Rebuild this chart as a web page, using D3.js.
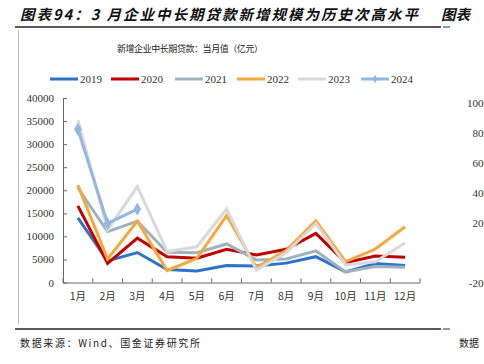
<!DOCTYPE html>
<html>
<head>
<meta charset="utf-8">
<script src="https://cdn.jsdelivr.net/npm/d3@7"></script>
<style>
  body { margin: 0; background: #fff; }
  svg { display: block; }
</style>
</head>
<body>
<script>
const months = ['1月', '2月', '3月', '4月', '5月', '6月', '7月', '8月', '9月', '10月', '11月', '12月'];
const yTicks = [0, 5000, 10000, 15000, 20000, 25000, 30000, 35000, 40000];

const s2019 = [14000, 4700, 6500, 2800, 2500, 3700, 3600, 4200, 5600, 2300, 4100, 3700];
const s2020 = [16600, 4150, 9600, 5600, 5250, 7200, 5950, 7200, 10650, 4300, 5750, 5450];
const s2021 = [20500, 11000, 13300, 6550, 6450, 8350, 4900, 5100, 6850, 2300, 3450, 3300];
const s2022 = [21100, 5100, 13300, 2600, 5250, 14500, 3300, 6900, 13400, 4500, 7250, 12100];
const s2023 = [35200, 11400, 20800, 6700, 7750, 15900, 2700, 6450, 12800, 3800, 4500, 8600];
const s2024 = [33200, 12800, 15900];

const seriesNames = ['2019', '2020', '2021', '2022', '2023', '2024'];
const seriesColors = ['#2f72c9', '#c00000', '#9fb3bf', '#f7a83a', '#d9d9d9', '#93b6e3'];

drawChart();

function drawChart()
{
    const width = 484;
    const height = 364;
    const serif = '"Liberation Serif", "Times New Roman", serif';
    const cjk = '"Noto Sans CJK SC", sans-serif';

    const svg = d3.select('body')
        .append('svg')
        .attr('width', width)
        .attr('height', height);

    // page frame: title, rules, source
    svg.append('text')
        .attr('x', 20).attr('y', 20)
        .attr('font-family', cjk)
        .attr('font-size', 14.5)
        .attr('font-weight', 'bold')
        .attr('font-style', 'italic')
        .attr('fill', '#111')
        .attr('textLength', 398)
        .attr('lengthAdjust', 'spacing')
        .text('图表94：3 月企业中长期贷款新增规模为历史次高水平');

    svg.append('text')
        .attr('x', 441).attr('y', 20)
        .attr('font-family', cjk)
        .attr('font-size', 14.5)
        .attr('font-weight', 'bold')
        .attr('font-style', 'italic')
        .attr('fill', '#111')
        .text('图表');

    [27, 329].forEach(y =>
    {
        svg.append('line')
            .attr('x1', 15).attr('x2', 441)
            .attr('y1', y).attr('y2', y)
            .attr('stroke', '#222').attr('stroke-width', 1.5);
        svg.append('line')
            .attr('x1', 443).attr('x2', 450)
            .attr('y1', y).attr('y2', y)
            .attr('stroke', '#4f81bd').attr('stroke-width', 1.5);
    });

    svg.append('line')
        .attr('x1', 18.5).attr('x2', 18.5)
        .attr('y1', 30).attr('y2', 324)
        .attr('stroke', '#bbb').attr('stroke-width', 1);

    svg.append('text')
        .attr('x', 20).attr('y', 347)
        .attr('font-family', cjk)
        .attr('font-size', 10)
        .attr('fill', '#222')
        .attr('textLength', 180)
        .attr('lengthAdjust', 'spacing')
        .text('数据来源：Wind、国金证券研究所');

    svg.append('text')
        .attr('x', 459).attr('y', 347)
        .attr('font-family', cjk)
        .attr('font-size', 10)
        .attr('fill', '#222')
        .text('数据');

    svg.append('text')
        .attr('x', 190).attr('y', 52)
        .attr('text-anchor', 'middle')
        .attr('font-family', cjk)
        .attr('font-size', 9)
        .attr('fill', '#222')
        .attr('textLength', 146)
        .attr('lengthAdjust', 'spacing')
        .text('新增企业中长期贷款：当月值（亿元）');

    // cut-off axis of the neighbouring chart
    const rightTicks = [['1000', 107], ['800', 137], ['600', 167], ['400', 197], ['200', 227], ['-200', 287]];
    rightTicks.forEach(([t, y]) =>
    {
        svg.append('text')
            .attr('x', 489).attr('y', y)
            .attr('text-anchor', 'end')
            .attr('font-family', serif)
            .attr('font-size', 11)
            .attr('fill', '#333')
            .text(t);
    });

    // main plot
    const left = 63, right = 420, top = 98, bottom = 282.5;

    const x = d3.scaleBand().domain(months).range([left, right]);
    const y = d3.scaleLinear().domain([0, 40000]).range([bottom, top]);

    const yAxis = svg.append('g')
        .attr('transform', `translate(${left},0)`)
        .call(d3.axisLeft(y).tickValues(yTicks).tickFormat(d3.format('d'))
            .tickSizeInner(-4).tickSizeOuter(0).tickPadding(9));
    yAxis.select('.domain').attr('stroke', '#666');
    yAxis.selectAll('.tick line').attr('stroke', '#666');
    yAxis.selectAll('text')
        .attr('font-family', serif)
        .attr('font-size', 11)
        .attr('fill', '#333');

    const xAxis = svg.append('g')
        .attr('transform', `translate(0,${bottom})`)
        .call(d3.axisBottom(x).tickSize(0).tickPadding(10));
    xAxis.select('.domain').attr('stroke', '#666');
    xAxis.selectAll('text')
        .attr('font-family', cjk)
        .attr('font-size', 10.5)
        .attr('fill', '#333');

    // boundary ticks between months
    const bounds = d3.range(months.length + 1).map(i => left + i * x.step());
    svg.append('g').selectAll('line')
        .data(bounds)
        .join('line')
        .attr('x1', d => d).attr('x2', d => d)
        .attr('y1', bottom).attr('y2', bottom - 4)
        .attr('stroke', '#666');

    const allSeries = [s2019, s2020, s2021, s2022, s2023, s2024];
    const line = d3.line()
        .x((d, i) => x(months[i]) + x.bandwidth() / 2)
        .y(d => y(d));

    allSeries.forEach((values, k) =>
    {
        svg.append('path')
            .datum(values)
            .attr('fill', 'none')
            .attr('stroke', seriesColors[k])
            .attr('stroke-width', 3)
            .attr('stroke-linejoin', 'miter')
            .attr('d', line);
    });

    const diamond = d3.symbol().type(d3.symbolDiamond).size(50);
    svg.append('g').selectAll('path')
        .data(s2024)
        .join('path')
        .attr('transform', (d, i) => `translate(${x(months[i]) + x.bandwidth() / 2},${y(d)})`)
        .attr('d', diamond)
        .attr('fill', seriesColors[5]);

    // legend
    const legendX = [50, 111, 175, 237, 298, 361];
    const legend = svg.append('g')
        .selectAll('g')
        .data(seriesNames)
        .join('g')
        .attr('transform', (d, i) => `translate(${legendX[i]},79)`);

    legend.append('line')
        .attr('x1', 0).attr('x2', 28)
        .attr('stroke', (d, i) => seriesColors[i])
        .attr('stroke-width', 3);

    legend.filter((d, i) => i === 5)
        .append('path')
        .attr('transform', 'translate(14,0)')
        .attr('d', d3.symbol().type(d3.symbolDiamond).size(20))
        .attr('fill', seriesColors[5]);

    legend.append('text')
        .attr('x', 30).attr('y', 4)
        .attr('font-family', serif)
        .attr('font-size', 11)
        .attr('fill', '#333')
        .text(d => d);
}
</script>
</body>
</html>
